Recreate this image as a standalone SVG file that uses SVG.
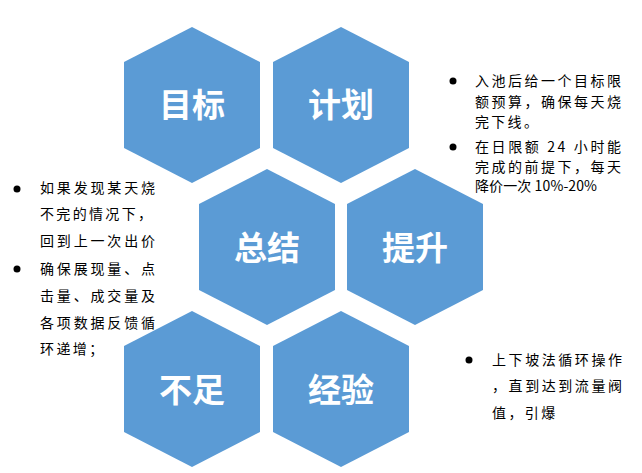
<svg xmlns="http://www.w3.org/2000/svg" width="642" height="473" viewBox="0 0 642 473">
<defs>
<style>
.hex{fill:#5B9BD5;}
.lbl{font-family:"Noto Sans CJK SC","Noto Sans",sans-serif;font-size:33px;font-weight:bold;fill:#FFFFFF;text-anchor:middle;}
.t{font-family:"Noto Sans CJK SC","Noto Sans",sans-serif;font-size:14px;fill:#000000;}
.b{fill:#000000;}
</style>
<polygon id="hexshape" points="0,-78 68,-43 68,43 0,78 -68,43 -68,-43"/>
</defs>
<rect width="642" height="473" fill="#FFFFFF"/>
<g id="connectors"></g>
<g id="node-mubiao"><use href="#hexshape" class="hex" x="192" y="105"/><text class="lbl" x="192" y="117">目标</text></g>
<g id="node-jihua"><use href="#hexshape" class="hex" x="341" y="105"/><text class="lbl" x="341" y="117">计划</text></g>
<g id="node-zongjie"><use href="#hexshape" class="hex" x="267" y="247"/><text class="lbl" x="267" y="260">总结</text></g>
<g id="node-tisheng"><use href="#hexshape" class="hex" x="415" y="247"/><text class="lbl" x="415" y="260">提升</text></g>
<g id="node-buzu"><use href="#hexshape" class="hex" x="192" y="389"/><text class="lbl" x="192" y="402">不足</text></g>
<g id="node-jingyan"><use href="#hexshape" class="hex" x="341" y="389"/><text class="lbl" x="341" y="402">经验</text></g>
<g id="note-jihua">
<circle class="b" cx="453" cy="81" r="3.5"/>
<circle class="b" cx="453" cy="147" r="3.5"/>
<text class="t" x="475" y="86" textLength="146" lengthAdjust="spacing">入池后给一个目标限</text>
<text class="t" x="475" y="107" textLength="146" lengthAdjust="spacing">额预算，确保每天烧</text>
<text class="t" x="475" y="127" letter-spacing="2.3">完下线。</text>
<text class="t" x="475" y="152" textLength="146" lengthAdjust="spacing">在日限额 24 小时能</text>
<text class="t" x="475" y="172" textLength="146" lengthAdjust="spacing">完成的前提下，每天</text>
<text class="t" x="475" y="191" textLength="122" lengthAdjust="spacing">降价一次 10%-20%</text>
</g>
<g id="note-zongjie">
<circle class="b" cx="17" cy="189" r="3.5"/>
<circle class="b" cx="17" cy="269" r="3.5"/>
<text class="t" x="40" y="193" textLength="115" lengthAdjust="spacing">如果发现某天烧</text>
<text class="t" x="40" y="219" textLength="112" lengthAdjust="spacing">不完的情况下，</text>
<text class="t" x="40" y="246" textLength="115" lengthAdjust="spacing">回到上一次出价</text>
<text class="t" x="40" y="274" textLength="115" lengthAdjust="spacing">确保展现量、点</text>
<text class="t" x="40" y="301" textLength="115" lengthAdjust="spacing">击量、成交量及</text>
<text class="t" x="40" y="328" textLength="115" lengthAdjust="spacing">各项数据反馈循</text>
<text class="t" x="40" y="354" letter-spacing="2.4">环递增；</text>
</g>
<g id="note-jingyan">
<circle class="b" cx="469" cy="360" r="3.5"/>
<text class="t" x="492" y="365" textLength="130" lengthAdjust="spacing">上下坡法循环操作</text>
<text class="t" x="492" y="391" textLength="130" lengthAdjust="spacing">，直到达到流量阀</text>
<text class="t" x="492" y="418" letter-spacing="2.4">值，引爆</text>
</g>
</svg>
